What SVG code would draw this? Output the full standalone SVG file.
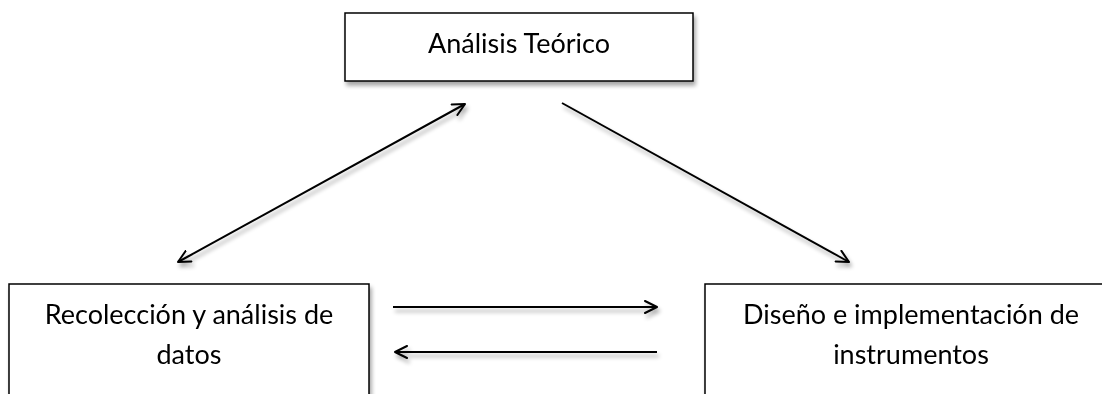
<svg xmlns="http://www.w3.org/2000/svg" width="1102" height="394" viewBox="0 0 1102 394">
<defs>
<filter id="sh" x="-10%" y="-10%" width="130%" height="150%">
<feGaussianBlur in="SourceAlpha" stdDeviation="2"/>
<feOffset dx="2" dy="4" result="b"/>
<feComponentTransfer><feFuncA type="linear" slope="0.35"/></feComponentTransfer>
<feMerge><feMergeNode/><feMergeNode in="SourceGraphic"/></feMerge>
</filter>
<marker id="ah" viewBox="0 0 14 14" refX="13" refY="7" markerWidth="14" markerHeight="14" markerUnits="userSpaceOnUse" orient="auto-start-reverse">
<path d="M1,1 L13,7 L1,13" fill="none" stroke="#000" stroke-width="2" stroke-linecap="round" stroke-linejoin="round"/>
</marker>
</defs>
<style>
.box{fill:#fff;stroke:#000;stroke-width:1.5}
.lbl{font-family:Lato,"Open Sans","Liberation Sans",sans-serif;font-size:27px;fill:#000;text-anchor:middle}
.c{stroke:#000;stroke-width:2;fill:none}
</style>
<rect width="1102" height="394" fill="#fff"/>
<g id="n1" filter="url(#sh)">
<rect class="box" x="345" y="13" width="348" height="68"/>
<text class="lbl" x="519" y="53">Análisis Teórico</text>
</g>
<g id="n2" filter="url(#sh)">
<rect class="box" x="9" y="284" width="360" height="130"/>
<text class="lbl" x="189" y="324">Recolección y análisis de</text>
<text class="lbl" x="189" y="364">datos</text>
</g>
<g id="n3" filter="url(#sh)">
<rect class="box" x="705" y="284" width="420" height="130"/>
<text class="lbl" x="911" y="324">Diseño e implementación de</text>
<text class="lbl" x="911" y="364">instrumentos</text>
</g>
<g id="connectors" filter="url(#sh)">
<line class="c" x1="178" y1="262" x2="465" y2="104" marker-start="url(#ah)" marker-end="url(#ah)"/>
<line class="c" x1="562" y1="103" x2="849" y2="262" marker-end="url(#ah)"/>
<line class="c" x1="393" y1="307" x2="657" y2="307" marker-end="url(#ah)"/>
<line class="c" x1="657" y1="352" x2="395" y2="352" marker-end="url(#ah)"/>
</g>
</svg>
